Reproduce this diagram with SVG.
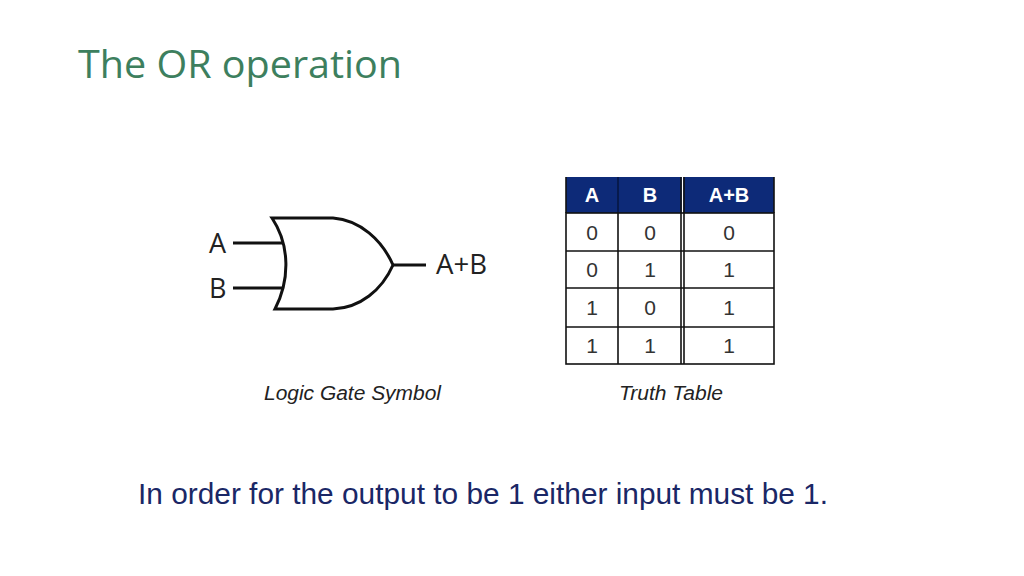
<svg xmlns="http://www.w3.org/2000/svg" width="1024" height="576" viewBox="0 0 1024 576">
<style>
.ttl{font-family:"Open Sans","Liberation Sans",sans-serif;font-size:39px;fill:#3d7f5e}
.lbl{font-family:"Open Sans","Liberation Sans",sans-serif;font-size:27px;fill:#222}
.cap{font-family:"Liberation Sans",Arial,sans-serif;font-size:20.5px;font-style:italic;fill:#222}
.hd{font-family:"Liberation Sans",Arial,sans-serif;font-size:20px;font-weight:bold;fill:#fff;text-anchor:middle}
.cell{font-family:"Liberation Sans",Arial,sans-serif;font-size:21px;fill:#333;text-anchor:middle}
.ln{stroke:#111;stroke-width:1.6;fill:none}
.wire{stroke:#111;stroke-width:3;fill:none}
.note{font-family:"Liberation Sans",Arial,sans-serif;font-size:30px;fill:#1a2766}
</style>
<rect width="1024" height="576" fill="#fff"/>
<text id="title" class="ttl" x="78" y="78" textLength="324" lengthAdjust="spacingAndGlyphs">The OR operation</text>

<g id="gate">
<path class="wire" d="M272,218 L333,218 C360,220 382,240 393,265 C382,290 360,308 333,309 L275,309 C290,280 290,245 272,218 Z"/>
<text class="lbl" x="209" y="253">A</text>
<text class="lbl" x="209" y="298">B</text>
<text class="lbl" x="436" y="274" textLength="51" lengthAdjust="spacingAndGlyphs">A+B</text>
</g>
<g id="connectors">
<line class="wire" x1="233" y1="243" x2="283" y2="243"/>
<line class="wire" x1="233" y1="288" x2="283" y2="288"/>
<line class="wire" x1="393" y1="265" x2="426" y2="265"/>
</g>
<text id="cap-gate" class="cap" x="264" y="400" textLength="177" lengthAdjust="spacingAndGlyphs">Logic Gate Symbol</text>

<g id="truth-table">
<rect x="566" y="177" width="208" height="36" fill="#0d2a78"/>
<line x1="618" y1="177" x2="618" y2="213" stroke="#06163f" stroke-width="1.5"/>
<line x1="682.5" y1="177" x2="682.5" y2="213" stroke="#fff" stroke-width="1.5"/>
<rect class="ln" x="566" y="213" width="208" height="151"/>
<line class="ln" x1="566" y1="251" x2="774" y2="251"/>
<line class="ln" x1="566" y1="288" x2="774" y2="288"/>
<line class="ln" x1="566" y1="327" x2="774" y2="327"/>
<line class="ln" x1="618" y1="213" x2="618" y2="364"/>
<line class="ln" x1="681" y1="177" x2="681" y2="364"/>
<line class="ln" x1="684" y1="177" x2="684" y2="364"/>
<line class="ln" x1="566" y1="177" x2="566" y2="213"/>
<line class="ln" x1="774" y1="177" x2="774" y2="213"/>
<text class="hd" x="592" y="202">A</text>
<text class="hd" x="650" y="202">B</text>
<text class="hd" x="729" y="202">A+B</text>
<text class="cell" x="592" y="240">0</text><text class="cell" x="650" y="240">0</text><text class="cell" x="729" y="240">0</text>
<text class="cell" x="592" y="277">0</text><text class="cell" x="650" y="277">1</text><text class="cell" x="729" y="277">1</text>
<text class="cell" x="592" y="315">1</text><text class="cell" x="650" y="315">0</text><text class="cell" x="729" y="315">1</text>
<text class="cell" x="592" y="353">1</text><text class="cell" x="650" y="353">1</text><text class="cell" x="729" y="353">1</text>
</g>
<text id="cap-table" class="cap" x="619" y="400" textLength="104" lengthAdjust="spacingAndGlyphs">Truth Table</text>

<text id="note" class="note" x="138" y="504" textLength="690" lengthAdjust="spacingAndGlyphs">In order for the output to be 1 either input must be 1.</text>
</svg>
